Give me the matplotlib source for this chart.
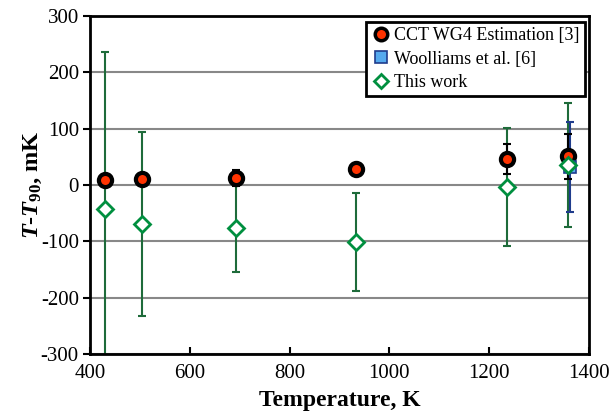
import matplotlib
matplotlib.use("Agg")
import matplotlib.pyplot as plt
from matplotlib.lines import Line2D

plt.rcParams['font.family'] = ['Liberation Serif', 'DejaVu Serif']
plt.rcParams['mathtext.fontset'] = 'custom'
plt.rcParams['mathtext.rm'] = 'Liberation Serif:bold'
plt.rcParams['mathtext.it'] = 'Liberation Serif:bold:italic'
plt.rcParams['mathtext.bf'] = 'Liberation Serif:bold'
plt.rcParams['axes.unicode_minus'] = False

# CCT WG4 estimation
cct_T = [429.75, 505.08, 692.68, 933.47, 1234.93, 1357.77]
cct_val = [9, 10, 13, 29, 46, 51]
cct_err = [5, 5, 14, 10, 27, 40]

# Woolliams et al.
wool_T = [1363]
wool_val = [32]
wool_err = [80]

# This work
tw_T = [429.75, 505.08, 692.68, 933.47, 1234.93, 1357.77]
tw_val = [-42, -69, -77, -101, -4, 36]
tw_err = [278, 163, 77, 87, 105, 110]

fig = plt.figure(figsize=(6.1, 4.19), dpi=100)
ax = fig.add_axes([0.1475, 0.155, 0.818, 0.807])

ax.set_xlim(400, 1400)
ax.set_ylim(-300, 300)
ax.set_xticks(range(400, 1401, 200))
ax.set_yticks(range(-300, 301, 100))
ax.yaxis.grid(True, color='#888888', linewidth=1.5)
ax.set_axisbelow(True)

green_line = '#1E6B3A'
green_mk = '#008F3F'

ax.errorbar(tw_T, tw_val, yerr=tw_err, fmt='none', ecolor=green_line,
            elinewidth=1.5, capsize=3, capthick=1.5, zorder=2)
ax.errorbar(wool_T, wool_val, yerr=wool_err, fmt='none', ecolor='#1F3C8C',
            elinewidth=1.5, capsize=3, capthick=1.5, zorder=2)
ax.errorbar(cct_T, cct_val, yerr=cct_err, fmt='none', ecolor='black',
            elinewidth=1.5, capsize=3, capthick=1.5, zorder=3)

ax.plot(cct_T, cct_val, 'o', ms=9.5, mfc='#FF3300', mec='black', mew=3, ls='none', zorder=4)
ax.plot(wool_T, wool_val, 's', ms=8, mfc='#55AAEE', mec='#1F3C8C', mew=1.2, ls='none', zorder=4)
ax.plot(tw_T, tw_val, 'D', ms=8, mfc='white', mec=green_mk, mew=2, ls='none', zorder=5)

for s in ax.spines.values():
    s.set_linewidth(2)
    s.set_color('black')

ax.tick_params(axis='y', direction='out', length=5, width=1.5, labelsize=15, pad=3)
ax.tick_params(axis='x', direction='in', length=5, width=1.5, labelsize=15, pad=7)

ax.set_xlabel('Temperature, K', fontsize=17, fontweight='bold', labelpad=5)
ax.set_ylabel(r'$T$-$T_{90}$, mK', fontsize=17.5, fontweight='bold', labelpad=-2)

handles = [
    Line2D([], [], marker='o', ms=9, mfc='#FF3300', mec='black', mew=2.5, ls='none'),
    Line2D([], [], marker='s', ms=8, mfc='#55AAEE', mec='#1F3C8C', mew=1.2, ls='none'),
    Line2D([], [], marker='D', ms=7, mfc='white', mec=green_mk, mew=2, ls='none'),
]
labels = ['CCT WG4 Estimation [3]', 'Woolliams et al. [6]', 'This work']
leg = ax.legend(handles, labels, loc='upper right', bbox_to_anchor=(0.992, 0.982),
                borderaxespad=0, fontsize=13, frameon=True, fancybox=False,
                handletextpad=0.15, handlelength=1.1, borderpad=0.3, labelspacing=0.35)
leg.get_frame().set_edgecolor('black')
leg.get_frame().set_linewidth(2)
leg.get_frame().set_alpha(1)
leg.set_zorder(10)

fig.savefig('out.png', dpi=100)
